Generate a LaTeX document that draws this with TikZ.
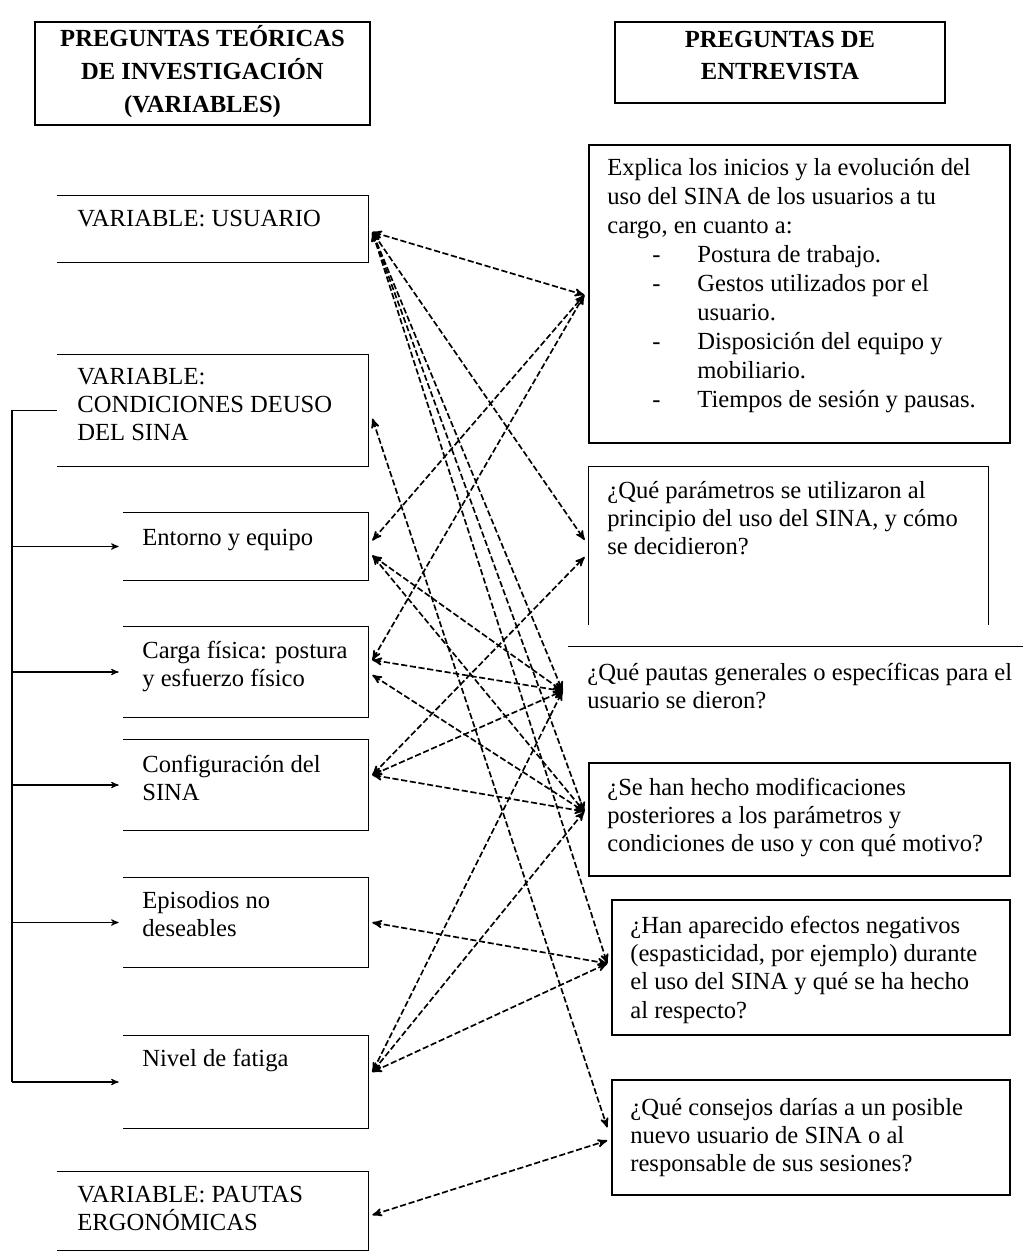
\documentclass[tikz,border=0pt]{standalone}
\usepackage{fontspec}
\setmainfont{Liberation Serif}
\usetikzlibrary{arrows}
\usetikzlibrary{fit}

\newcommand{\guion}{\hspace*{0.9cm}\makebox[0.9cm][l]{-}}
\newcommand{\sangria}{\hspace*{1.8cm}}

\tikzset{
  caja/.style={inner sep=0pt},
  borde/.style={line width=0.8pt},
  texto/.style={anchor=north west, inner sep=0pt, align=left, font=\fontsize{14}{16}\selectfont, execute at begin node=\strut},
  titulo/.style={inner sep=0pt, align=center, font=\bfseries\fontsize{14}{18.7}\selectfont},
  enlace/.style={<->, >=stealth', line width=0.95pt, dash pattern=on 3.5pt off 1.5pt},
  flecha/.style={->, >=stealth', line width=0.6pt},
}

\begin{document}
\begin{tikzpicture}[x=0.02cm, y=-0.02cm]
\useasboundingbox (0,0) rectangle (1023,1258);

% cabeceras
\node[caja, draw, borde, fit={(35,22) (370,125)}] (cabvar) {};
\node[titulo] (tvar) at ([shift={(0,-2)}]cabvar.center) {PREGUNTAS TEÓRICAS\\DE INVESTIGACIÓN\\(VARIABLES)};
\node[caja, draw, borde, fit={(615,22) (945,103)}] (cabent) {};
\node[titulo] (tent) at ([shift={(0,-7)}]cabent.center) {PREGUNTAS DE\\ENTREVISTA};

% variables
\node[caja, fit={(57,196) (368,262)}] (usuario) {};
\node[caja, fit={(57,355) (368,466)}] (condiciones) {};
\node[caja, fit={(123,513) (368,580)}] (entorno) {};
\node[caja, fit={(123,627) (368,717)}] (carga) {};
\node[caja, fit={(123,740) (368,830)}] (config) {};
\node[caja, fit={(123,878) (368,967)}] (episodios) {};
\node[caja, fit={(123,1036) (368,1128)}] (nivel) {};
\node[caja, fit={(57,1172) (368,1250)}] (ergonomia) {};
\foreach \n in {usuario,condiciones,entorno,carga,config,episodios,nivel,ergonomia}
  \draw[borde] (\n.north west) -- (\n.north east) -- (\n.south east) -- (\n.south west);

\node[texto] (tusuario) at (77,206) {VARIABLE: USUARIO};
\node[texto] (tcondiciones) at (77,368) {VARIABLE:\\CONDICIONES DEUSO\\DEL SINA};
\node[texto] (tentorno) at (142,525) {Entorno y equipo};
\node[texto] (tcarga) at (142,641) {Carga física: postura\\y esfuerzo físico};
\node[texto] (tconfig) at (142,755) {Configuración del\\SINA};
\node[texto] (tepisodios) at (142,891) {Episodios no\\deseables};
\node[texto] (tnivel) at (142,1046) {Nivel de fatiga};
\node[texto] (tergonomia) at (77,1186) {VARIABLE: PAUTAS\\ERGONÓMICAS};

% preguntas
\node[caja, draw, borde, fit={(589,145) (1010,443)}] (explica) {};
\node[caja, fit={(589,467) (988,625)}] (parametros) {};
\draw[borde] (parametros.south west) -- (parametros.north west) -- (parametros.north east) -- (parametros.south east);
\node[caja, fit={(568,647) (1023,735)}] (pautasgen) {};
\draw[borde] (pautasgen.north west) -- (pautasgen.north east);
\node[caja, draw, borde, fit={(589,763) (1010,876)}] (modif) {};
\node[caja, draw, borde, fit={(612,900) (1010,1035)}] (efectos) {};
\node[caja, draw, borde, fit={(612,1080) (1010,1195)}] (consejos) {};

\node[texto, font=\fontsize{14}{16.5}\selectfont] (texplica) at (607,158) {Explica los inicios y la evolución del\\
  uso del SINA de los usuarios a tu\\
  cargo, en cuanto a:\\
  \guion Postura de trabajo.\\
  \guion Gestos utilizados por el\\
  \sangria usuario.\\
  \guion Disposición del equipo y\\
  \sangria mobiliario.\\
  \guion Tiempos de sesión y pausas.};
\node[texto] (tparametros) at (607,481) {¿Qué parámetros se utilizaron al\\principio del uso del SINA, y cómo\\se decidieron?};
\node[texto] (tpautasgen) at (587,663) {¿Qué pautas generales o específicas para el\\usuario se dieron?};
\node[texto] (tmodif) at (607,778) {¿Se han hecho modificaciones\\posteriores a los parámetros y\\condiciones de uso y con qué motivo?};
\node[texto] (tefectos) at (630,916) {¿Han aparecido efectos negativos\\(espasticidad, por ejemplo) durante\\el uso del SINA y qué se ha hecho\\al respecto?};
\node[texto] (tconsejos) at (630,1098) {¿Qué consejos darías a un posible\\nuevo usuario de SINA o al\\responsable de sus sesiones?};

% llave izquierda
\coordinate (lomo) at (12,0);
\draw[line width=0.6pt] (condiciones.west) -- (lomo |- condiciones.west) -- (lomo |- nivel.west);
\foreach \n in {entorno,carga,config,episodios,nivel}
  \draw[flecha] (lomo |- \n.west) -- ([shift={(-4,0)}]\n.west);

% puertos
\coordinate (pU) at ([shift={(4,3)}]usuario.east);
\coordinate (pCo) at ([shift={(4,8)}]condiciones.east);
\coordinate (pEa) at ([shift={(4,-6)}]entorno.east);
\coordinate (pEb) at ([shift={(4,9)}]entorno.east);
\coordinate (pCa) at ([shift={(4,-12)}]carga.east);
\coordinate (pCb) at ([shift={(4,3)}]carga.east);
\coordinate (pCf) at ([shift={(4,-10)}]config.east);
\coordinate (pEp) at ([shift={(4,0)}]episodios.east);
\coordinate (pN) at ([shift={(4,-10)}]nivel.east);
\coordinate (pPa) at ([shift={(4,4)}]ergonomia.east);
\coordinate (qB) at ([shift={(-4,1)}]explica.west);
\coordinate (qCa) at ([shift={(-4,-6)}]parametros.west);
\coordinate (qCb) at ([shift={(-4,11)}]parametros.west);
\coordinate (qD) at ([shift={(-5,0)}]pautasgen.west);
\coordinate (qE) at ([shift={(-4,-8)}]modif.west);
\coordinate (qF) at ([shift={(-4,-4)}]efectos.west);
\coordinate (qGa) at ([shift={(-4,-10)}]consejos.west);
\coordinate (qGb) at ([shift={(-4,3)}]consejos.west);

% relaciones
\foreach \a/\b in {pU/qB, pU/qCa, pU/qD, pU/qE, pU/qF, pCo/qGa,
    pEa/qB, pEb/qD, pEb/qE, pCa/qB, pCa/qD, pCb/qE,
    pCf/qCb, pCf/qD, pCf/qE, pEp/qF, pN/qD, pN/qE, pN/qF, pPa/qGb}
  \draw[enlace] (\a) -- (\b);
\end{tikzpicture}
\end{document}
